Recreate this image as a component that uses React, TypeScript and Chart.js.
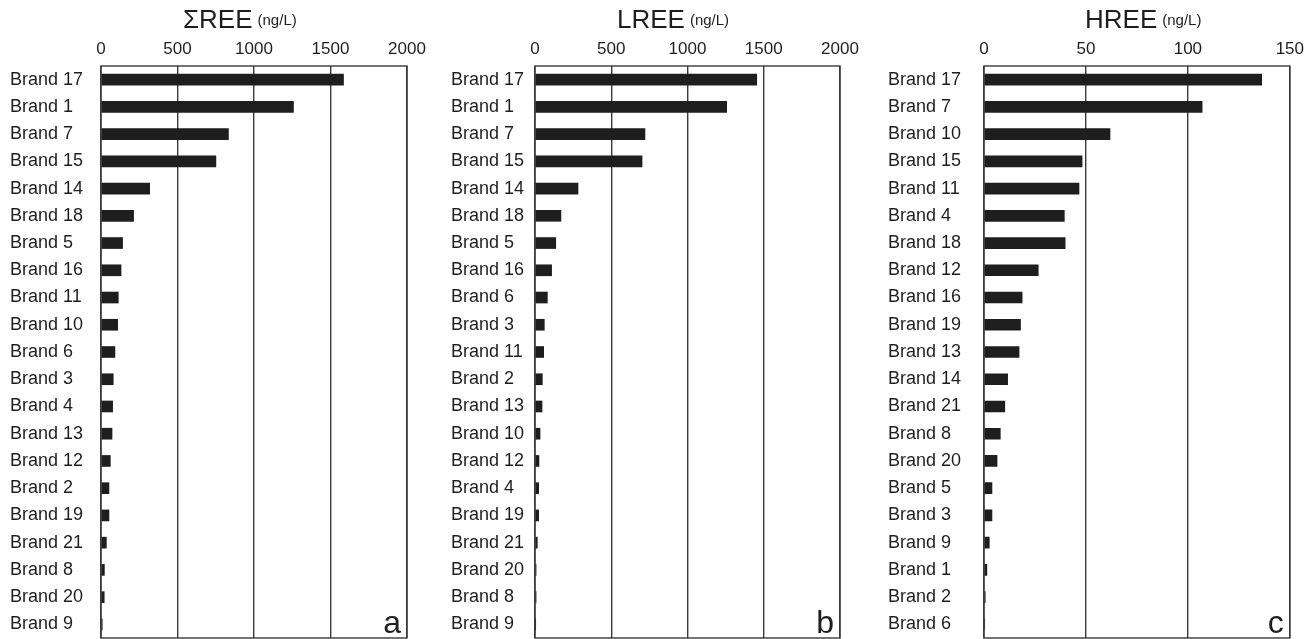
import React, { useEffect, useRef } from 'react';
import { Chart, registerables } from 'chart.js';

Chart.register(...registerables);

const FONT = "'Liberation Sans', Arial, Helvetica, sans-serif";
const INK = '#1e1e1e';
const GRID = '#3a3a3a';

// Panel a: ΣREE (ng/L)
const brandsSum = ['Brand 17', 'Brand 1', 'Brand 7', 'Brand 15', 'Brand 14', 'Brand 18', 'Brand 5', 'Brand 16', 'Brand 11', 'Brand 10', 'Brand 6', 'Brand 3', 'Brand 4', 'Brand 13', 'Brand 12', 'Brand 2', 'Brand 19', 'Brand 21', 'Brand 8', 'Brand 20', 'Brand 9'];
const sumREE = [1585, 1258, 833, 751, 318, 213, 141, 131, 113, 109, 91, 80, 76, 72, 61, 52, 52, 35, 22, 21, 8];
const sumTicks = [0, 500, 1000, 1500, 2000];

// Panel b: LREE (ng/L)
const brandsL = ['Brand 17', 'Brand 1', 'Brand 7', 'Brand 15', 'Brand 14', 'Brand 18', 'Brand 5', 'Brand 16', 'Brand 6', 'Brand 3', 'Brand 11', 'Brand 2', 'Brand 13', 'Brand 10', 'Brand 12', 'Brand 4', 'Brand 19', 'Brand 21', 'Brand 20', 'Brand 8', 'Brand 9'];
const lREE = [1454, 1257, 721, 702, 282, 170, 136, 109, 81, 61, 57, 48, 46, 33, 26, 24, 24, 15, 7, 7, 2];
const lTicks = [0, 500, 1000, 1500, 2000];

// Panel c: HREE (ng/L)
const brandsH = ['Brand 17', 'Brand 7', 'Brand 10', 'Brand 15', 'Brand 11', 'Brand 4', 'Brand 18', 'Brand 12', 'Brand 16', 'Brand 19', 'Brand 13', 'Brand 14', 'Brand 21', 'Brand 8', 'Brand 20', 'Brand 5', 'Brand 3', 'Brand 9', 'Brand 1', 'Brand 2', 'Brand 6'];
const hREE = [136.2, 107, 61.8, 48.1, 46.6, 39.4, 39.8, 26.6, 18.7, 17.9, 17.2, 11.6, 10.2, 8.0, 6.4, 3.9, 3.9, 2.6, 1.4, 0.6, 0.3];
const hTicks = [0, 50, 100, 150];

const unit = '(ng/L)';

type PanelDef = {
  left: number;
  width: number;
  labelLeft: number;
  plotLeft: number;
  plotRight: number;
  titleX: number;
  title: string;
  letter: string;
  categories: string[];
  values: number[];
  ticks: number[];
};

const H = 639;
const PLOT_TOP = 66;
const PLOT_BOTTOM = 638;

const panels: PanelDef[] = [
  { left: 0, width: 435, labelLeft: 10, plotLeft: 101, plotRight: 407, titleX: 183, title: 'ΣREE', letter: 'a', categories: brandsSum, values: sumREE, ticks: sumTicks },
  { left: 440, width: 428, labelLeft: 451, plotLeft: 535, plotRight: 840, titleX: 617, title: 'LREE', letter: 'b', categories: brandsL, values: lREE, ticks: lTicks },
  { left: 880, width: 430, labelLeft: 888, plotLeft: 984, plotRight: 1290, titleX: 1085, title: 'HREE', letter: 'c', categories: brandsH, values: hREE, ticks: hTicks },
];

const framePlugin = {
  id: 'frame',
  afterDraw(chart: any, _args: any, opts: any) {
    const { ctx, chartArea } = chart;
    ctx.save();
    ctx.strokeStyle = GRID;
    ctx.lineWidth = 1.4;
    ctx.strokeRect(chartArea.left, chartArea.top, chartArea.right - chartArea.left, chartArea.bottom - chartArea.top);
    // title
    ctx.fillStyle = INK;
    ctx.textBaseline = 'alphabetic';
    ctx.textAlign = 'left';
    ctx.font = `26px ${FONT}`;
    ctx.fillText(opts.title, opts.titleX, 28);
    const w = ctx.measureText(opts.title).width;
    ctx.font = `15px ${FONT}`;
    ctx.fillText(unit, opts.titleX + w + 5, 25);
    // panel letter
    ctx.font = `32px ${FONT}`;
    ctx.textAlign = 'right';
    ctx.fillText(opts.letter, chartArea.right - 6, chartArea.bottom - 5);
    ctx.restore();
  },
};

function makeChart(canvas: HTMLCanvasElement, p: PanelDef) {
  const padLeft = p.labelLeft - p.left;
  const padRight = p.left + p.width - p.plotRight;
  const yWidth = p.plotLeft - p.labelLeft;
  return new Chart(canvas, {
    type: 'bar',
    data: {
      labels: p.categories,
      datasets: [
        {
          data: p.values,
          backgroundColor: INK,
          borderWidth: 0,
          barThickness: 11,
        },
      ],
    },
    options: {
      indexAxis: 'y',
      responsive: false,
      animation: false,
      layout: { padding: { left: padLeft, right: padRight, top: 0, bottom: H - PLOT_BOTTOM } },
      plugins: {
        legend: { display: false },
        tooltip: { enabled: false },
        title: { display: false },
        frame: { title: p.title, titleX: p.titleX - p.left, letter: p.letter },
      } as any,
      scales: {
        x: {
          type: 'linear',
          position: 'top',
          min: p.ticks[0],
          max: p.ticks[p.ticks.length - 1],
          afterBuildTicks: (s: any) => {
            s.ticks = p.ticks.map((v) => ({ value: v }));
          },
          afterFit: (s: any) => {
            s.height = PLOT_TOP;
          },
          grid: { color: GRID, lineWidth: 1.4, drawTicks: false },
          border: { display: false },
          ticks: {
            padding: 6,
            color: INK,
            font: { family: FONT, size: 17 },
            maxRotation: 0,
            autoSkip: false,
            callback: (v: any) => String(v),
          },
        },
        y: {
          type: 'category',
          afterFit: (s: any) => {
            s.width = yWidth;
            s.paddingTop = 0;
            s.paddingBottom = 0;
          },
          grid: { display: false, drawTicks: false },
          border: { display: false },
          ticks: {
            crossAlign: 'far',
            color: INK,
            padding: 0,
            autoSkip: false,
            font: { family: FONT, size: 18 },
          },
        },
      },
    } as any,
    plugins: [framePlugin],
  });
}

function Panel({ p }: { p: PanelDef }) {
  const ref = useRef<HTMLCanvasElement | null>(null);
  useEffect(() => {
    if (!ref.current) return;
    const chart = makeChart(ref.current, p);
    return () => chart.destroy();
  }, [p]);
  return (
    <canvas
      ref={ref}
      width={p.width}
      height={H}
      style={{ position: 'absolute', left: p.left, top: 0, width: p.width, height: H }}
    />
  );
}

export default function App() {
  return (
    <div
      style={{
        position: 'fixed',
        left: 0,
        top: 0,
        width: 1310,
        height: H,
        overflow: 'hidden',
        background: '#ffffff',
      }}
    >
      {panels.map((p) => (
        <Panel key={p.letter} p={p} />
      ))}
    </div>
  );
}
